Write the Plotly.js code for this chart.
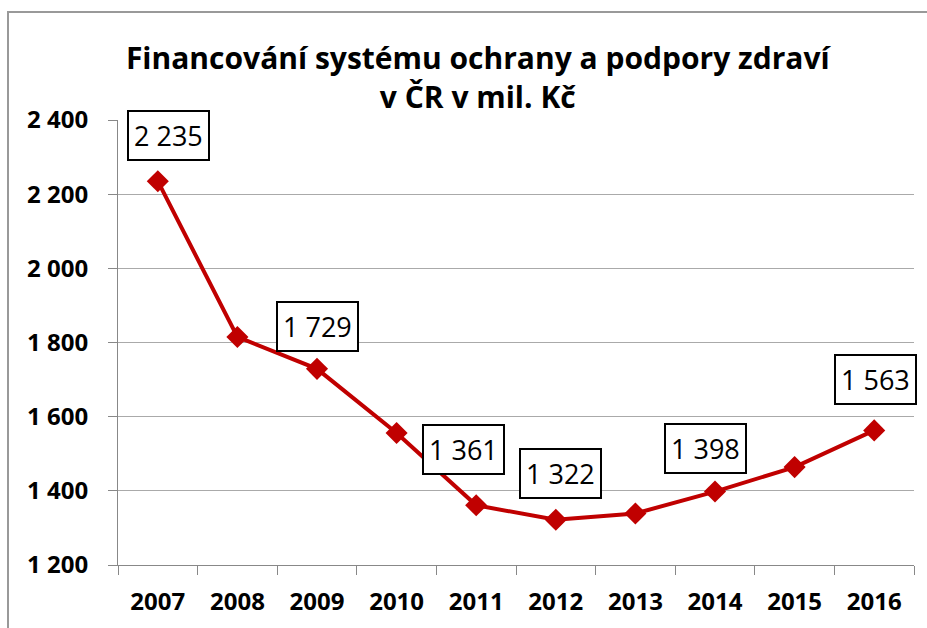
<!DOCTYPE html>
<html><head><meta charset="utf-8">
<script src="https://cdn.plot.ly/plotly-3.0.1.min.js"></script>
<style>body{margin:0;background:#fff}#c{width:927px;height:628px}#err{position:absolute;top:0;left:0;color:red;font:12px monospace}</style>
</head><body><div id="c"></div><div id="err"></div>
<script>
const years = ['2007','2008','2009','2010','2011','2012','2013','2014','2015','2016'];
const values = [2235, 1815, 1729, 1556, 1361, 1322, 1339, 1398, 1464, 1563];
const labelled = ['2007','2009','2011','2012','2014','2016'];
const labelShift = {'2007':[11,46],'2009':[0,42],'2011':[-13,56],'2012':[5,46],'2014':[-10,43],'2016':[1,51]};
const yTicks = [1200,1400,1600,1800,2000,2200,2400];
const yTickText = ['1 200','1 400','1 600','1 800','2 000','2 200','2 400'];
const fmt = v => String(v).replace(/\B(?=(\d{3})+(?!\d))/g,' ');
const F = '"Open Sans", Lato, sans-serif';

const annotations = labelled.map(yr => {
  const i = years.indexOf(yr);
  return {x:i, y:values[i], xref:'x', yref:'y', text:fmt(values[i]), showarrow:false,
    xshift:labelShift[yr][0], yshift:labelShift[yr][1],
    font:{family:F, size:27, color:'#000'}, bgcolor:'#ffffff', bordercolor:'#000000', borderwidth:2, borderpad:5};
});

const layout = {
  width:927, height:628,
  margin:{l:118, r:13, t:120, b:63},
  paper_bgcolor:'#fff', plot_bgcolor:'#fff',
  showlegend:false,
  title:{text:'<b>Financování systému ochrany a podpory zdraví<br>v ČR v mil. Kč</b>',
    font:{family:F, size:30, color:'#000'}, x:0.452, xref:'paper', xanchor:'center', y:0.89, yanchor:'middle', yref:'container'},
  xaxis:{type:'category', range:[-0.5,9.5], showgrid:false, showline:true, linecolor:'#888', linewidth:1,
    ticks:'outside', ticklen:9, tickcolor:'#888', tickson:'boundaries', ticklabelstandoff:15,
    tickfont:{family:F, size:24, color:'#000', weight:'bold'}},
  yaxis:{range:[1200,2400], tickvals:yTicks, ticktext:yTickText, showgrid:true, gridcolor:'#aaa', gridwidth:1,
    showline:true, linecolor:'#888', ticks:'outside', ticklen:9, tickcolor:'#888', zeroline:false, ticklabelstandoff:15,
    tickfont:{family:F, size:24, color:'#000', weight:'bold'}},
  annotations: annotations,
  shapes:[{type:'rect', xref:'paper', yref:'paper', x0:(8-118)/796, x1:(940-118)/796,
    y0:(565-640)/445, y1:(565-12)/445, line:{color:'#999', width:2}, layer:'below'}]
};

try {
Plotly.newPlot('c', [{x:years, y:values, type:'scatter', mode:'lines+markers', cliponaxis:false,
  line:{color:'#C00000', width:4}, marker:{symbol:'diamond', size:17, color:'#C00000'}}], layout, {staticPlot:true})
  .catch(e => {document.getElementById('err').textContent = 'ERR ' + e;});
} catch(e) { document.getElementById('err').textContent = 'ERR ' + e; }
</script></body></html>
